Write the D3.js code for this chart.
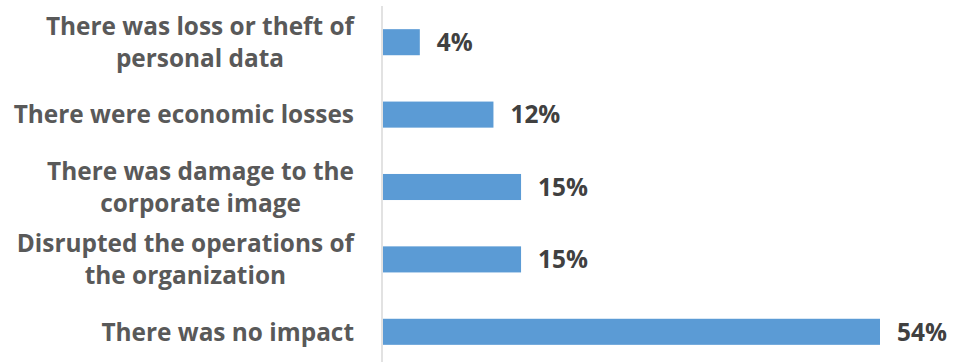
<!DOCTYPE html>
<html>
<head>
<meta charset="utf-8">
<script src="https://cdn.jsdelivr.net/npm/d3@7"></script>
<style>
  html, body { margin: 0; padding: 0; background: #ffffff; }
  svg { display: block; }
  .cat { font-family: "Open Sans", "Noto Sans", sans-serif; font-weight: 700; fill: #595959; }
  .val { font-family: "Open Sans", "Noto Sans", sans-serif; font-weight: 700; fill: #404040; }
</style>
</head>
<body>
<svg id="chart" width="953" height="362"></svg>
<script>
// Impact of the incident, share of respondents
const categories = [
  ["There was loss or theft of", "personal data"],
  ["There were economic losses"],
  ["There was damage to the", "corporate image"],
  ["Disrupted the operations of", "the organization"],
  ["There was no impact"]
];
const values = [4, 12, 15, 15, 54];
const valueLabels = ["4%", "12%", "15%", "15%", "54%"];

const svg = d3.select("#chart");
const width = 953, height = 362;
const margin = { left: 383, top: 6, bottom: -6 };
const labelRight = 354;

const keys = categories.map((c, i) => i);

const y = d3.scaleBand()
  .domain(keys)
  .range([margin.top, height - margin.bottom])
  .paddingInner(0.64)
  .paddingOuter(0.32);

const x = d3.scaleLinear()
  .domain([0, 54])
  .range([margin.left, 880]);

// bars
svg.append("g")
  .selectAll("rect")
  .data(values)
  .join("rect")
  .attr("x", x(0))
  .attr("y", (d, i) => y(i))
  .attr("width", d => x(d) - x(0))
  .attr("height", y.bandwidth())
  .attr("fill", "#5B9BD5");

// vertical category axis line
svg.append("line")
  .attr("x1", x(0) - 1).attr("x2", x(0) - 1)
  .attr("y1", margin.top).attr("y2", height)
  .attr("stroke", "#d9d9d9")
  .attr("stroke-width", 1.5);

// category labels: each block right aligned, its lines centred on one another
const fontSize = 24.4;
const lineH = 32;
const capOffset = fontSize * 0.36;
const cats = svg.append("g")
  .selectAll("text")
  .data(categories)
  .join("text")
  .attr("class", "cat")
  .attr("font-size", fontSize)
  .attr("text-anchor", "middle")
  .attr("y", (d, i) => y(i) + y.bandwidth() / 2 + capOffset - (d.length - 1) * lineH / 2);

cats.selectAll("tspan")
  .data(d => d)
  .join("tspan")
  .attr("dy", (d, j) => j === 0 ? 0 : lineH)
  .text(d => d);

cats.each(function () {
  const spans = d3.select(this).selectAll("tspan").nodes();
  const w = d3.max(spans, s => s.getComputedTextLength());
  d3.select(this).selectAll("tspan").attr("x", labelRight - w / 2);
});

// value labels
svg.append("g")
  .selectAll("text")
  .data(values)
  .join("text")
  .attr("class", "val")
  .attr("font-size", fontSize)
  .attr("x", d => x(d) + 17)
  .attr("y", (d, i) => y(i) + y.bandwidth() / 2 + capOffset)
  .text((d, i) => valueLabels[i]);
</script>
</body>
</html>
